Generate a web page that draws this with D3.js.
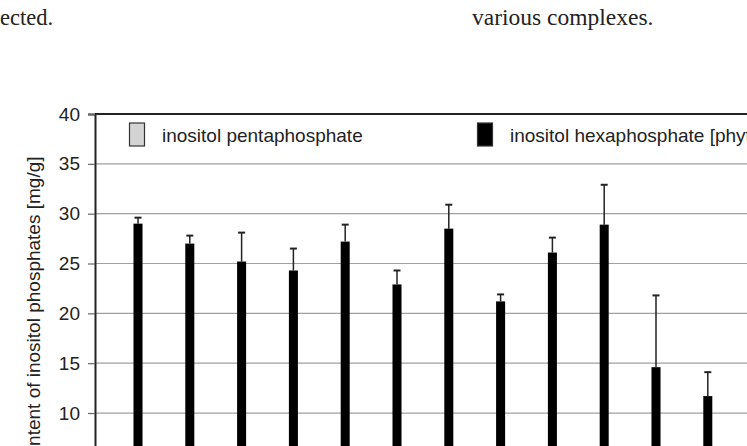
<!DOCTYPE html>
<html>
<head>
<meta charset="utf-8">
<script src="https://cdn.jsdelivr.net/npm/d3@7"></script>
<style>
  body { margin: 0; background: #fff; }
  svg { display: block; }
</style>
</head>
<body>
<svg id="chart"></svg>
<script>
// samples (their x labels fall below the visible crop)
var samples = ["1", "2", "3", "4", "5", "6", "7", "8", "9", "10", "11", "12"];
// inositol hexaphosphate [phytate], mg/g
var hexaValues = [29.0, 27.0, 25.2, 24.3, 27.2, 22.9, 28.5, 21.2, 26.1, 28.9, 14.6, 11.7];
var hexaErrors = [0.6, 0.8, 2.9, 2.2, 1.7, 1.4, 2.4, 0.7, 1.5, 4.0, 7.2, 2.4];
var legendLabels = ["inositol pentaphosphate", "inositol hexaphosphate [phytate]"];
// ticks visible in the crop
var yTicks = [10, 15, 20, 25, 30, 35, 40];

var W = 747, H = 446,
    margin = {top: 114, left: 95},
    height = 398.7,
    width = 720;

var svg = d3.select("#chart")
    .attr("width", W)
    .attr("height", H);

// running text of the scanned page
svg.append("text")
    .attr("x", 0)
    .attr("y", 25)
    .attr("font-family", "Liberation Serif, serif")
    .attr("font-size", "22.5px")
    .attr("fill", "#222")
    .text("ected.");

svg.append("text")
    .attr("x", 472)
    .attr("y", 25)
    .attr("font-family", "Liberation Serif, serif")
    .attr("font-size", "23.5px")
    .attr("fill", "#222")
    .text("various complexes.");

var g = svg.append("g")
    .attr("transform", "translate(" + margin.left + "," + margin.top + ")");

var y = d3.scaleLinear()
    .domain([0, 40])
    .range([height, 0]);

var x = d3.scaleBand()
    .domain(samples)
    .range([17.1, 17.1 + samples.length * 51.8])
    .paddingInner(0.826)
    .paddingOuter(0.413);

// grid lines
g.append("g")
    .attr("class", "grid")
    .selectAll("line")
    .data(yTicks.filter(function(d) { return d < 40; }))
  .enter().append("line")
    .attr("x1", 0)
    .attr("x2", width)
    .attr("y1", function(d) { return y(d); })
    .attr("y2", function(d) { return y(d); })
    .attr("stroke", "#a0a0a0")
    .attr("stroke-width", 1.2);

// top border
g.append("line")
    .attr("x1", 0)
    .attr("x2", width)
    .attr("y1", y(40))
    .attr("y2", y(40))
    .attr("stroke", "#222")
    .attr("stroke-width", 2);

// y axis
var yAxis = g.append("g")
    .call(d3.axisLeft(y).tickValues(yTicks).tickSize(7).tickPadding(8));
yAxis.select(".domain").attr("stroke", "#222").attr("stroke-width", 2);
yAxis.selectAll(".tick line").attr("stroke", "#666").attr("stroke-width", 1.2);
yAxis.selectAll("text")
    .attr("font-family", "Liberation Sans, Arial, sans-serif")
    .attr("font-size", "19px")
    .attr("fill", "#222");

// y label (cut by the bottom of the crop, as in the scan)
svg.append("text")
    .attr("transform", "translate(40," + (margin.top + height / 2) + ") rotate(-90)")
    .attr("text-anchor", "middle")
    .attr("font-family", "Liberation Sans, Arial, sans-serif")
    .attr("font-size", "19px")
    .attr("fill", "#222")
    .text("Content of inositol phosphates [mg/g]");

// bars
g.append("g")
    .selectAll("rect")
    .data(hexaValues)
  .enter().append("rect")
    .attr("x", function(d, i) { return x(samples[i]); })
    .attr("y", function(d) { return y(d); })
    .attr("width", x.bandwidth())
    .attr("height", function(d) { return height - y(d); })
    .attr("fill", "#000");

// error bars
var err = g.append("g")
    .selectAll("g")
    .data(hexaValues)
  .enter().append("g")
    .attr("stroke", "#222")
    .attr("stroke-width", 1.5);

err.append("line")
    .attr("x1", function(d, i) { return x(samples[i]) + x.bandwidth() / 2; })
    .attr("x2", function(d, i) { return x(samples[i]) + x.bandwidth() / 2; })
    .attr("y1", function(d) { return y(d); })
    .attr("y2", function(d, i) { return y(d + hexaErrors[i]); });

err.append("line")
    .attr("x1", function(d, i) { return x(samples[i]) + x.bandwidth() / 2 - 3.5; })
    .attr("x2", function(d, i) { return x(samples[i]) + x.bandwidth() / 2 + 3.5; })
    .attr("y1", function(d, i) { return y(d + hexaErrors[i]); })
    .attr("y2", function(d, i) { return y(d + hexaErrors[i]); })
    .attr("stroke-width", 2);

// legend
var legendX = [34, 382],
    legendFill = ["#d4d4d4", "#000"];

var leg = g.selectAll(".legend")
    .data(legendLabels)
  .enter().append("g")
    .attr("class", "legend")
    .attr("transform", function(d, i) { return "translate(" + legendX[i] + ",9)"; });

leg.append("rect")
    .attr("x", 0.5)
    .attr("y", 0)
    .attr("width", 15)
    .attr("height", 23)
    .attr("fill", function(d, i) { return legendFill[i]; })
    .attr("stroke", "#333")
    .attr("stroke-width", 1.2);

leg.append("text")
    .attr("x", 33)
    .attr("y", 18.5)
    .attr("font-family", "Liberation Sans, Arial, sans-serif")
    .attr("font-size", "19px")
    .attr("fill", "#222")
    .text(function(d) { return d; });
</script>
</body>
</html>
